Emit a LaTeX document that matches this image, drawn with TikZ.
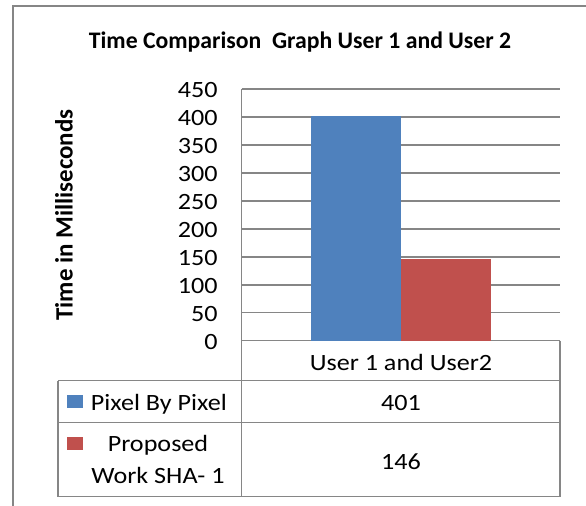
\documentclass[tikz,border=0pt]{standalone}
\usepackage{fontspec}
\setmainfont{Carlito}[FakeStretch=1.12, BoldFeatures={FakeStretch=1.0}]
\usepackage{tikz}
\usetikzlibrary{positioning}
\definecolor{barblue}{HTML}{4F81BD}
\definecolor{barred}{HTML}{C0504D}
\definecolor{gridgray}{HTML}{868686}

\begin{document}
\begin{tikzpicture}[
    x=0.75pt, y=-0.75pt,
    font=\fontsize{17.5}{21}\selectfont,
    grid/.style={draw=gridgray, line width=1.1pt},
    lbl/.style={inner sep=0pt, anchor=base},
    hd/.style={lbl, font=\fontsize{17.8}{21}\selectfont\bfseries},
    tick/.style={inner sep=0pt, anchor=base east},
    key/.style={inner sep=0pt, anchor=north west, minimum width=11.7pt, minimum height=9.8pt}
  ]
  \useasboundingbox (0,0) rectangle (586,506);

  % chart frame: only top and left edges show
  \draw[grid] (13,506) -- (13,6) -- (586,6);

  \node[hd] (title) at (300,49) {Time Comparison\ \ Graph User 1 and User 2};
  \node[hd, rotate=90, font=\fontsize{18.7}{21}\selectfont\bfseries] (ytitle) at (72.7,215) {Time in Milliseconds};

  % value axis: grid lines with their labels
  \foreach \v in {0,50,...,450} {
    \coordinate (gl\v) at (241.7,340.7-\v*0.5593);
    \coordinate (gr\v) at (560,340.7-\v*0.5593);
    \draw[grid] (gl\v) -- (gr\v);
    \node[tick] (t\v) at ([yshift=-8.8*0.75pt]gl\v -| 218,0) {\v};
  }

  % bars
  \fill[barblue] (311,340.7) rectangle (401,340.7-401*0.5593);
  \fill[barred] (401,340.7) rectangle (491,340.7-146*0.5593);

  % data table under the plot
  \coordinate (c1) at (58,380.7);
  \coordinate (c2) at (58,422.7);
  \coordinate (c3) at (58,496.7);
  \draw[grid] (gl450) -- (241.7,496.7);
  \draw[grid] (gr0) -- (560,496.7);
  \draw[grid] (c1) -- (c3);
  \foreach \c in {c1,c2,c3}
    \draw[grid] (\c) -- (\c -| gr0);

  \node[lbl] (cat) at (401,370) {User 1 and User2};
  \node[lbl] (v1) at (401,410.5) {401};
  \node[lbl] (v2) at (401,469) {146};

  \node[key, fill=barblue] (k1) at (67,395) {};
  \node[lbl, anchor=base west] (s1) at (90.7,410) {Pixel By Pixel};
  \node[key, fill=barred] (k2) at (67,436.5) {};
  \node[lbl, align=center, font=\fontsize{17.5}{23.7}\selectfont] (s2) at (158,483.3) {Proposed\\Work SHA- 1};
\end{tikzpicture}
\end{document}
